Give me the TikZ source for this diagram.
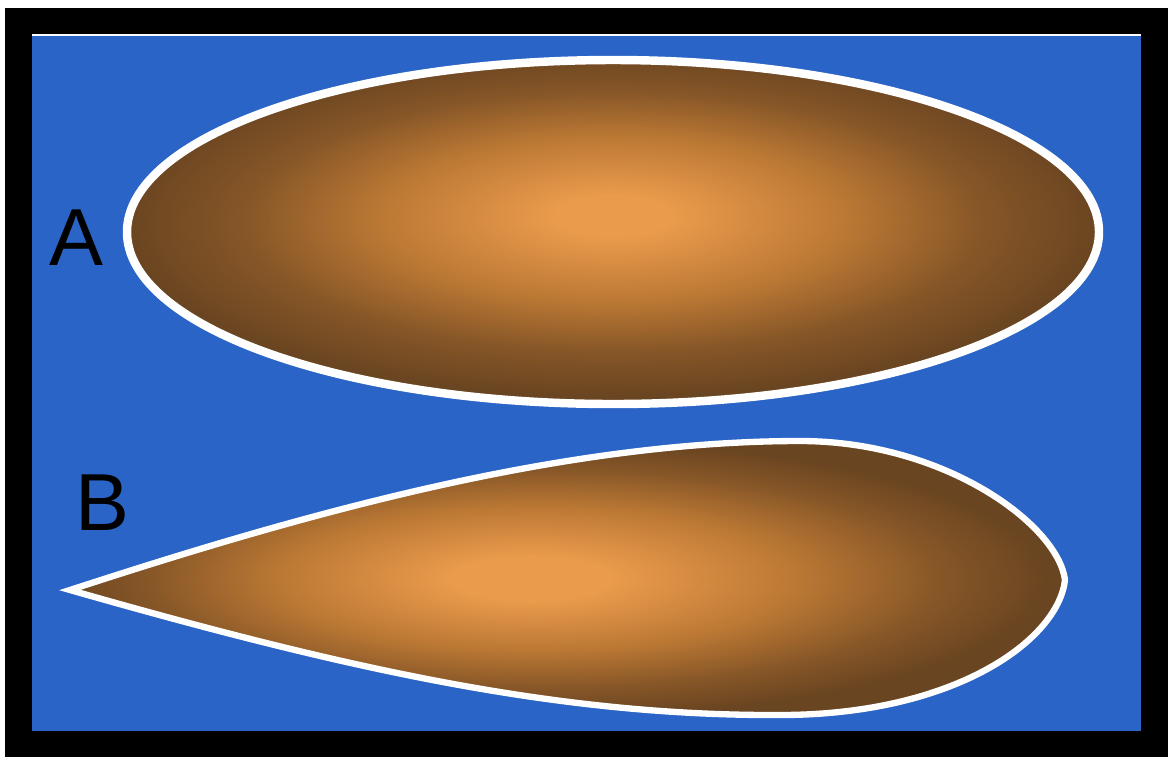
\documentclass[tikz,border=0pt]{standalone}
\usepackage{fontspec}
\setmainfont{Liberation Sans}
\usepackage{tikz}
\usepackage{xcolor}
\definecolor{seedblue}{HTML}{2964C6}
\definecolor{seedlight}{HTML}{EA9B4C}
\definecolor{seedmid}{HTML}{BB7834}
\definecolor{seedrim}{HTML}{865627}
\definecolor{seeddark}{HTML}{6A4521}
\pgfdeclareradialshading{seedglow}{\pgfpoint{0bp}{2.5bp}}{%
  color(0bp)=(seedlight); color(3bp)=(seedlight);
  color(12bp)=(seedmid); color(19bp)=(seedrim);
  color(25bp)=(seeddark); color(50bp)=(seeddark)}
\pgfdeclareradialshading{dropglow}{\pgfpoint{-2bp}{0bp}}{%
  color(0bp)=(seedlight); color(4bp)=(seedlight);
  color(13bp)=(seedmid); color(20bp)=(seedrim);
  color(25bp)=(seeddark); color(50bp)=(seeddark)}
\tikzset{
  seedoutline/.style={draw=white, line width=2.4pt},
  seedlabel/.style={font=\fontsize{23}{27}\selectfont, text=black, inner sep=0pt},
  seedbody/.style={seedoutline, shading=seedglow},
  dropbody/.style={draw=white, line width=1.8pt, shading=dropglow}
}

\begin{document}
\begin{tikzpicture}[x={(0.01cm,0)}, y={(0,-0.01cm)}]
\useasboundingbox (0,0) rectangle (1173,757);
% frame and background
\fill[white] (0,0) rectangle (1173,757);
\fill[black] (5,8) rectangle (1168,757);
\fill[seedblue] (32,35) rectangle (1141,731);
\draw[white, line width=0.4pt] (32,35) -- (1141,35);
% shape A
\path[seedbody] (613,232) ellipse [x radius=486, y radius=172];
\node[seedlabel] (labelA) at (76,238) {A};
% shape B
\path[dropbody] (70,590)
  .. controls (300,515) and (560,441) .. (800,441)
  .. controls (945,441) and (1058,525) .. (1065,580)
  .. controls (1058,640) and (955,715) .. (780,715)
  .. controls (560,716) and (350,670) .. (70,590) -- cycle;
\node[seedlabel] (labelB) at (102,503) {B};
\end{tikzpicture}
\end{document}
